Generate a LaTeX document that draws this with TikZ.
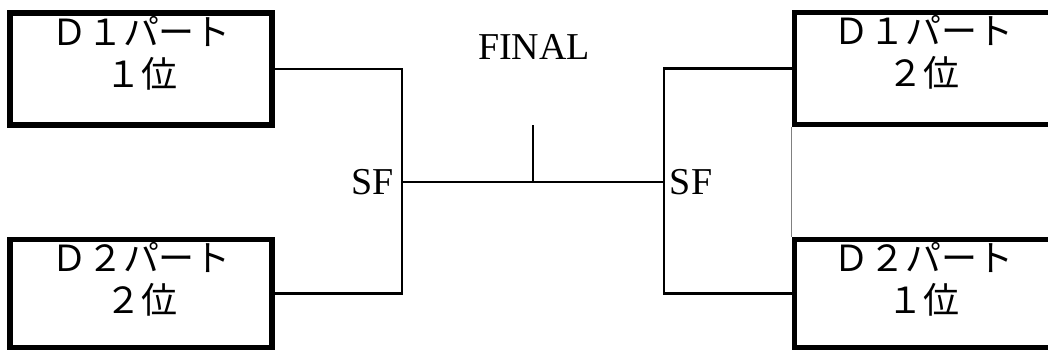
\documentclass[tikz,border=0pt]{standalone}
\usepackage{fontspec}
\setmainfont{Liberation Serif}
\newfontfamily\jpfont{Noto Sans CJK JP}
\usetikzlibrary{positioning}

\begin{document}
\begin{tikzpicture}[x=0.025cm, y=-0.025cm]
    \tikzstyle{team-box}=[rectangle, draw, line width=4pt, minimum width=6.55cm, minimum height=2.8cm, inner sep=0pt]
    \tikzstyle{team-name}=[align=center, inner sep=0pt, font=\jpfont\fontsize{25.6}{30}\selectfont]
    \tikzstyle{round-name}=[inner sep=0pt, font=\fontsize{27}{30}\selectfont]
    \tikzstyle{bracket}=[line width=2pt]

    \useasboundingbox (0,0) rectangle (1048,351);
    \clip (0,0) rectangle (1048,351);

    \node[team-box] (d1-first) at (141,69) {};
    \node[team-name, below=4pt of d1-first.north] (d1-first-text) {Ｄ１パート\\１位};

    \node[team-box, minimum height=2.7cm] (d2-second) at (141,293.5) {};
    \node[team-name, below=4pt of d2-second.north] (d2-second-text) {Ｄ２パート\\２位};

    \node[team-box, minimum width=6.43cm] (d1-second) at (923,68.5) {};
    \node[team-name, below=4pt of d1-second.north] (d1-second-text) {Ｄ１パート\\２位};

    \node[team-box, minimum width=6.43cm, minimum height=2.7cm] (d2-first) at (923,293.5) {};
    \node[team-name, below=4pt of d2-first.north] (d2-first-text) {Ｄ２パート\\１位};

    \draw[line width=1pt, gray] (d1-second.south west) -- (d2-first.north west);

    \coordinate (sf-left) at (402,182);
    \coordinate (sf-right) at (664,182);
    \coordinate (final) at (533,125);

    \draw[bracket] (d1-first.east) -| (sf-left) |- (d2-second.east);
    \draw[bracket] (d1-second.west) -| (sf-right) |- (d2-first.west);
    \draw[bracket] (sf-left) -- (sf-right);
    \draw[bracket] (final) -- (final |- sf-left);

    \node[round-name, left=6pt of sf-left] (sf-left-label) {SF};
    \node[round-name, right=4pt of sf-right] (sf-right-label) {SF};
    \node[round-name] (final-label) at (534,47) {FINAL};
\end{tikzpicture}
\end{document}
